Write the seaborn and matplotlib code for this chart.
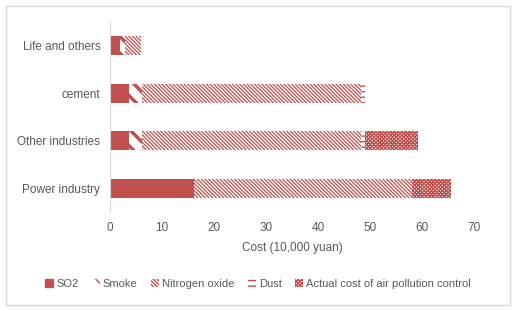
import matplotlib
matplotlib.use('Agg')
import matplotlib.pyplot as plt
import matplotlib.patches as mpatches
import seaborn as sns
import pandas as pd
import numpy as np

# Data (cost in 10,000 yuan)
categories = ['Life and others', 'cement', 'Other industries', 'Power industry']
so2 = [2.0, 3.7, 3.7, 16.2]
smoke = [0.9, 2.4, 2.4, 0.0]
nitrogen_oxide = [3.0, 42.1, 42.1, 41.8]
dust = [0.0, 0.8, 0.8, 0.0]
actual_cost = [0.0, 0.0, 10.3, 7.6]

series_names = ['SO2', 'Smoke', 'Nitrogen oxide', 'Dust', 'Actual cost of air pollution control']
series_values = [so2, smoke, nitrogen_oxide, dust, actual_cost]
hatches = [None, '\\\\', '\\' * 9, '---', 'x' * 9]
hatch_widths = [1.0, 2.5, 0.9, 1.0, 1.0]

red = '#C0504D'
text_gray = '#595959'

sns.set_style('white')
plt.rcParams['font.family'] = ['Liberation Sans', 'DejaVu Sans']
plt.rcParams['hatch.linewidth'] = 1.0
plt.rcParams['hatch.color'] = red

df = pd.DataFrame({'category': categories})
cum = np.zeros(len(categories))
cums = []
for vals in series_values:
    cum = cum + np.array(vals)
    cums.append(cum.copy())

fig = plt.figure(figsize=(5.16, 3.11), dpi=100)
ax = fig.add_axes([110 / 516, 1 - 212 / 311, 364 / 516, 190 / 311])


def set_hw(patch, w):
    if hasattr(patch, 'set_hatch_linewidth'):
        patch.set_hatch_linewidth(w)


# draw from the total backwards so each layer covers the next one
for i in range(len(series_names) - 1, -1, -1):
    df['value'] = cums[i]
    face = red if hatches[i] is None else 'white'
    n_before = len(ax.patches)
    sns.barplot(data=df, x='value', y='category', orient='h', ax=ax,
                color=face, saturation=1, width=0.4, hatch=hatches[i],
                edgecolor=red, linewidth=0)
    for p in ax.patches[n_before:]:
        set_hw(p, hatch_widths[i])

ax.set_xlim(0, 70)
ax.set_xticks(range(0, 71, 10))
ax.set_xlabel('Cost (10,000 yuan)', fontsize=8.5, color=text_gray, labelpad=6)
ax.set_ylabel('')
ax.tick_params(axis='both', labelsize=8.5, colors=text_gray, length=0, pad=7)
for s in ['top', 'right', 'bottom']:
    ax.spines[s].set_visible(False)
ax.spines['left'].set_color('#D9D9D9')

handles = []
for name, h, w in zip(series_names, hatches, hatch_widths):
    if h is None:
        handles.append(mpatches.Patch(facecolor=red, edgecolor=red, label=name))
    else:
        p = mpatches.Patch(facecolor='white', edgecolor=red, hatch=h, linewidth=0, label=name)
        set_hw(p, w)
        handles.append(p)
fig.legend(handles=handles, loc='center', bbox_to_anchor=(0.5, 1 - 284 / 311), ncol=5,
           frameon=False, fontsize=8, labelcolor=text_gray, handlelength=0.7,
           handleheight=0.7, handletextpad=0.3, columnspacing=1.2)

fig.patches.append(mpatches.Rectangle((0.012, 0.02), 0.976, 0.96, transform=fig.transFigure,
                                      fill=False, edgecolor='#D9D9D9', linewidth=1))

plt.savefig('out.png', dpi=100)
plt.close()
